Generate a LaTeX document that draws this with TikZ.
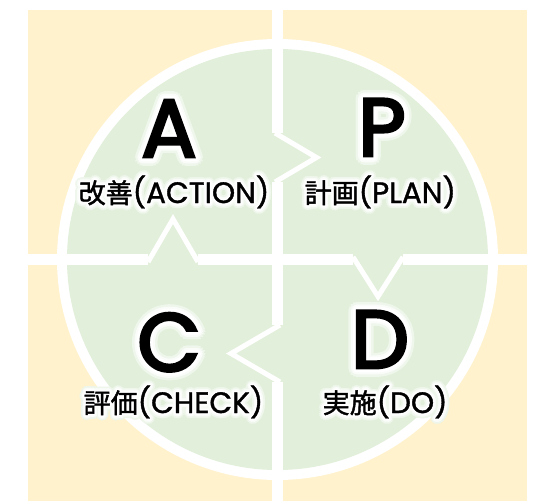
\documentclass[tikz,border=0pt]{standalone}
\usepackage{fontspec}
\newfontfamily\jpfont{Noto Sans CJK JP}[FakeBold=1.6]
\newfontfamily\latfont{Poppins}[FakeBold=1.2]
\newfontfamily\bigfont{Poppins}[FakeBold=3.5]
\usetikzlibrary{calc}
\definecolor{beige}{HTML}{FFF2CC}
\definecolor{leaf}{HTML}{E2EFDA}
\colorlet{glowout}{white!45!leaf}
\colorlet{glowmid}{white!80!leaf}
\newcommand\kj[1]{{\jpfont\fontsize{27}{27}\selectfont #1}}
\newcommand\la[1]{{\latfont\fontsize{29.5}{29.5}\selectfont #1}}
% glow: #1 name prefix, #2 style, #3 position, #4 text, #5 r1, #6 r2, #7 r3
\newcommand\glowtext[7]{%
  \foreach \a [count=\i] in {0,22.5,...,337.5}{
    \node[#2, text=glowout, shift={(\a:#5)}] (#1o\i) at #3 {#4};}
  \foreach \a [count=\i] in {0,22.5,...,337.5}{
    \node[#2, text=glowmid, shift={(\a:#6)}] (#1m\i) at #3 {#4};}
  \foreach \a [count=\i] in {0,22.5,...,337.5}{
    \node[#2, text=white, shift={(\a:#7)}] (#1w\i) at #3 {#4};}
  \node[#2, text=black] (#1) at #3 {#4};
}
\begin{document}
\begin{tikzpicture}[x=1pt,y=-1pt,
  band/.style={white, line width=10.5pt},
  notch/.style={white, line width=5pt, line join=miter, line cap=butt},
  bigletter/.style={font=\bigfont\fontsize{82}{82}\selectfont, anchor=base, inner sep=0pt},
  lbl/.style={anchor=base west, inner sep=0pt}]
\useasboundingbox (0,0) rectangle (540,501);
\fill[white] (0,0) rectangle (540,501);
\fill[beige] (28,10) rectangle (527,501);
\fill[white] (272,0) rectangle (283,501);
\fill[white] (0,254) rectangle (540,265);
\fill[white] (277.5,259.5) circle[radius=220.5pt];
\fill[leaf] (277.5,259.5) circle[radius=210.5pt];
% dividing lines with notches
\draw[band] (277.5,45) -- (277.5,133);
\draw[notch] (275,133) -- (316.5,157.5) -- (275,182);
\draw[band] (277.5,182) -- (277.5,325);
\draw[notch] (280,325) -- (231,353.5) -- (280,382);
\draw[band] (277.5,382) -- (277.5,475);
\draw[band] (62,259.5) -- (148,259.5);
\draw[notch] (148,262) -- (173,219) -- (198,262);
\draw[band] (198,259.5) -- (353,259.5);
\draw[notch] (353,257) -- (378,296.5) -- (403,257);
\draw[band] (403,259.5) -- (493,259.5);
% letters
\glowtext{A}{bigletter}{(169,157)}{A}{7.5}{5}{3}
\glowtext{P}{bigletter}{(382,156)}{P}{7.5}{5}{3}
\glowtext{C}{bigletter}{(169,371)}{C}{7.5}{5}{3}
\glowtext{D}{bigletter}{(380,368)}{D}{7.5}{5}{3}
% labels
\glowtext{lA}{lbl}{(78.5,203)}{\kj{改善}\la{(ACTION)}}{5}{3.2}{1.6}
\glowtext{lP}{lbl}{(304.5,203)}{\kj{計画}\la{(PLAN)}}{5}{3.2}{1.6}
\glowtext{lC}{lbl}{(83.5,413)}{\kj{評価}\la{(CHECK)}}{5}{3.2}{1.6}
\glowtext{lD}{lbl}{(322.5,413)}{\kj{実施}\la{(DO)}}{5}{3.2}{1.6}
\end{tikzpicture}
\end{document}
